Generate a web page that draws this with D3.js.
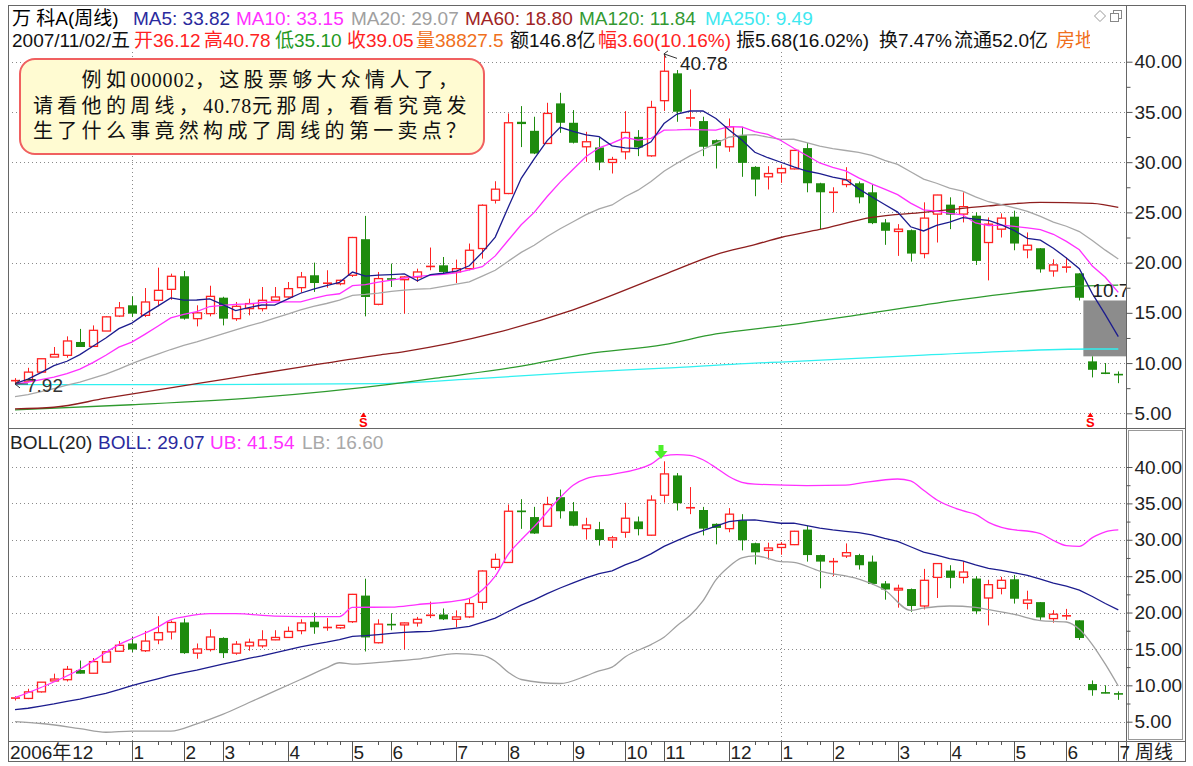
<!DOCTYPE html>
<html><head><meta charset="utf-8">
<script src="https://cdn.jsdelivr.net/npm/d3@7"></script>
<style>body{margin:0;background:#fff}svg{display:block}</style>
</head><body>
<svg id="c" width="1193" height="766"></svg>
<script>
// ---------------- DATA (weekly candles, index 1..86) ----------------
const opens = [8.2,8.2,9.1,10.6,10.77,12.1,11.66,13.19,14.68,15.75,
14.75,16.25,17.34,18.64,14.42,14.92,16.51,14.42,15.42,15.42,
16.25,16.58,17.51,18.74,17.9,17.9,18.74,22.33,15.85,18.45,
18.3,18.57,19.57,19.73,19.07,19.4,21.4,26.21,26.88,34.02,
33.12,31.86,35.85,33.92,31.53,31.46,29.97,31.03,32.52,30.63,
36.12,38.84,34.35,34.09,32.19,31.53,32.69,29.53,28.54,28.94,
29.33,31.4,27.9,26.93,27.77,27.9,27.0,24.0,23.1,23.23,
20.9,24.83,25.77,24.83,24.67,22.0,23.33,24.57,21.27,21.43,
19.17,19.5,18.93,10.17,9.07,8.93];
const highs = [8.5,9.53,10.45,11.6,12.66,13.4,13.75,14.68,16.08,16.64,
17.47,19.5,18.9,19.17,15.75,17.7,16.6,16.08,16.41,17.57,
17.57,18.07,19.07,20.0,19.24,18.3,22.56,24.65,19.07,19.9,
18.65,19.4,21.5,20.56,20.3,21.9,25.8,28.1,34.85,35.58,
34.52,35.91,36.9,35.18,33.02,32.46,30.53,35.08,33.19,36.11,
40.78,39.17,37.24,34.52,32.26,34.35,33.52,29.6,29.6,29.7,
31.23,31.9,27.95,27.5,29.5,28.07,27.83,24.33,23.83,23.3,
26.0,26.75,26.5,27.0,25.0,24.5,24.9,25.17,23.0,21.45,
20.33,20.5,18.95,10.67,10.0,9.17];
const lows = [7.92,8.1,9.0,10.6,10.53,11.6,11.6,13.19,14.58,14.58,
14.58,15.65,16.3,14.32,13.65,14.65,13.75,14.2,14.75,15.15,
16.2,16.51,17.01,17.08,17.5,17.74,18.57,14.65,15.75,17.57,
14.92,18.07,19.24,18.97,17.97,19.24,20.4,25.88,26.81,31.5,
30.8,31.8,32.92,31.86,30.03,29.2,28.87,30.27,30.6,30.53,
35.10,34.02,33.52,30.6,29.37,31.03,28.54,26.61,27.28,27.94,
29.27,27.0,23.33,25.0,27.5,25.9,23.83,21.77,20.67,20.1,
20.43,22.0,23.33,24.0,19.77,18.23,22.5,21.23,20.43,19.0,
18.6,19.0,16.23,8.57,8.9,8.0];
const closes = [8.3,9.1,10.43,10.86,12.2,11.6,13.26,14.6,15.5,14.92,
16.08,17.24,18.64,14.42,15.0,16.64,14.42,15.65,15.92,16.25,
16.58,17.41,18.57,17.97,18.0,18.24,22.5,16.58,18.41,18.3,
18.57,19.07,19.67,19.07,19.4,21.23,25.71,27.31,33.92,33.79,
30.86,34.85,33.92,31.93,32.03,29.97,30.27,32.96,31.46,35.45,
39.05,35.02,34.45,31.53,31.63,33.52,29.93,28.27,28.87,29.37,
31.17,27.9,27.0,27.07,28.23,26.5,23.93,23.17,23.33,20.9,
24.43,26.73,24.77,25.57,20.17,23.83,24.43,21.9,21.73,19.33,
19.77,19.6,16.5,9.33,8.93,8.83];

// moving averages, one value per week
const ma5 = [7.95,8.4,9.05,9.75,10.18,10.84,11.67,12.50,13.43,13.98,
14.87,15.67,16.48,16.26,16.28,16.39,15.82,15.23,15.53,15.78,
15.76,16.36,16.95,17.36,17.71,18.04,19.06,18.66,18.75,18.81,
18.87,18.19,18.80,18.94,19.16,19.69,21.02,22.54,25.51,28.39,
30.32,32.15,33.47,33.07,32.72,32.54,31.62,31.43,31.34,32.02,
33.84,34.79,35.09,35.10,34.34,33.23,32.21,30.98,30.44,29.99,
29.52,29.12,28.86,28.50,28.27,27.34,26.55,25.78,25.03,23.57,
23.15,23.71,24.03,24.48,24.33,24.21,23.75,23.18,22.41,22.24,
21.43,20.47,19.39,16.91,14.83,12.64];
const ma10 = [7.9,8.1,8.35,8.6,8.95,9.4,10.04,10.78,11.59,12.08,
12.86,13.67,14.49,14.85,15.13,15.63,15.75,15.85,15.89,16.03,
16.08,16.09,16.09,16.44,16.74,16.90,17.71,17.80,18.05,18.26,
18.46,18.62,18.73,18.84,18.98,19.28,19.60,20.67,22.23,23.77,
25.00,26.58,28.01,29.29,30.56,31.43,31.89,32.45,32.20,32.37,
33.19,33.21,33.26,33.22,33.18,33.53,33.50,33.03,32.77,32.16,
31.38,30.66,29.92,29.47,29.13,28.43,27.83,27.32,26.77,25.92,
25.25,25.13,24.91,24.76,23.95,23.68,23.73,23.61,23.45,23.29,
22.82,22.11,21.28,19.66,18.54,17.04];
const ma20 = [6.65,6.85,7.15,7.45,7.8,8.1,8.5,8.9,9.4,9.95,
10.45,10.9,11.35,11.75,12.1,12.5,12.9,13.3,13.7,14.05,
14.47,14.88,15.29,15.64,15.93,16.27,16.73,16.83,16.97,17.14,
17.27,17.36,17.41,17.64,17.86,18.09,18.66,19.24,20.14,21.02,
21.73,22.60,23.37,24.07,24.77,25.35,25.74,26.56,27.21,28.07,
29.10,29.89,30.63,31.26,31.87,32.48,32.69,32.74,32.49,32.27,
32.28,31.94,31.59,31.35,31.16,30.98,30.67,30.18,29.77,29.04,
28.31,27.90,27.41,27.11,26.54,26.06,25.78,25.46,25.11,24.60,
24.03,23.62,23.09,22.21,21.24,20.36];
// long averages read at sample weeks: [week, value]
const ma60 = [[1,5.45],[4,5.6],[8,6.5],[15,7.95],[23,9.6],[29,10.8],[31,11.15],[38,13.0],[44,15.3],[51,18.8],[55,20.8],[58,21.8],[60,22.5],[63,23.3],[67,24.5],[71,25.0],[76,25.65],[80,26.0],[84,25.9],[86,25.5]];
const ma120 = [[1,5.35],[10,5.85],[20,6.6],[30,7.9],[34,8.6],[40,9.7],[45,10.9],[51,11.84],[55,12.9],[60,13.7],[66,14.8],[74,16.35],[79,17.15],[83,17.65],[86,17.75]];
const ma250 = [[1,7.85],[15,7.85],[29,7.95],[36,8.4],[44,9.05],[51,9.49],[58,10.0],[60,10.1],[71,10.8],[84,11.4],[86,11.4]];
// Bollinger bands (mid = ma20)
const bollUB = [[1,8.3],[3,9.7],[6,12.2],[8,14.5],[9,15.6],[10,16.4],[12,18.0],[13,19.0],[14,19.4],[16,19.85],[18,19.85],[21,19.5],[23,19.45],[26,19.45],[27,20.7],[30,20.75],[32,21.1],[35,21.6],[36,21.95],[37,23.1],[38,25.0],[39,28.0],[40,30.0],[41,31.8],[43,35.8],[44,37.5],[45,38.4],[47,39.0],[50,40.4],[51,41.54],[52,41.7],[53,41.6],[54,41.0],[55,39.9],[56,38.7],[57,37.9],[58,37.65],[62,37.45],[65,37.5],[66,37.75],[69,38.35],[70,38.1],[71,36.8],[72,35.5],[74,34.0],[75,33.5],[76,32.4],[77,31.7],[80,30.85],[81,29.9],[82,29.2],[83,29.1],[84,30.3],[85,31.1],[86,31.35]];
const bollLB = [[1,5.0],[3,4.75],[6,4.05],[8,3.55],[10,3.7],[13,3.7],[15,4.7],[17,6.0],[19,7.6],[21,9.2],[23,10.8],[25,12.4],[26,13.1],[27,12.9],[30,13.3],[32,13.6],[35,14.35],[37,14.1],[38,13.3],[39,11.8],[40,10.8],[43,10.25],[45,11.3],[46,12.0],[47,12.5],[48,13.9],[50,15.6],[51,16.6],[52,18.2],[53,19.6],[54,21.6],[55,24.5],[56,26.3],[57,27.5],[58,27.8],[60,27.0],[61,26.9],[63,25.7],[66,24.6],[68,23.1],[70,20.3],[71,20.6],[73,20.9],[75,20.7],[76,20.4],[78,19.75],[80,18.9],[82,18.7],[83,17.7],[84,15.6],[85,12.9],[86,9.9]];

const monthStarts = [5,10,14,17,22,27,30,35,39,44,48,51,56,60,64,69,73,78,82,86];
const monthLabels = ["12","1","2","3","4","5","6","7","8","9","10","11","12","1","2","3","4","5","6","7"];
const yearLabel = "2006年";
const priceTicks = [5,7.5,10,12.5,15,17.5,20,22.5,25,27.5,30,32.5,35,37.5,40];

const header1 = ["万 科A(周线)","MA5: 33.82","MA10: 33.15","MA20: 29.07","MA60: 18.80","MA120: 11.84","MA250: 9.49"];
const header2 = ["2007/11/02/五","开36.12","高40.78","低35.10","收39.05","量38827.5","额146.8亿","幅3.60(10.16%)","振5.68(16.02%)","换7.47%","流通52.0亿","房地产"];
const bollLegend = ["BOLL(20)","BOLL: 29.07","UB: 41.54","LB: 16.60"];
const peakWeek = 51, lowWeek = 1, gapWeek = 83;
const sellMarks = [28,84];
const noteLines = [
  [["　　例如","c"],["000002","d"],["，这股票够大众情人了，","c"]],
  [["请看他的周线，","c"],["40.78","d"],["元那周，看看究竟发","c"]],
  [["生了什么事竟然构成了周线的第一卖点？","c"]]
];

// ---------------- LAYOUT ----------------
const FONT = "'Liberation Sans', Arial, 'Noto Sans CJK SC', sans-serif";
const RED="#ff2222", GREEN="#1e8b0e";
const C5="#1c1c8e", C10="#ff30ff", C20="#a8a8a8", C60="#8e1e1e", C120="#2e9a2e", C250="#30f0f0";
const L=8, R=1126, TOP=5, SEP=428, BOT=741, FR=1185, FB=761;

const svg = d3.select("#c");
const x = d3.scaleLinear().domain([1,86]).range([15,1118.3]);
const yT = d3.scaleLinear().domain([5,40]).range([413.3,61.7]);
const yB = d3.scaleLinear().domain([5,40]).range([721.7,467]);

const defs = svg.append("defs");
defs.append("clipPath").attr("id","cpT").append("rect").attr("x",L).attr("y",TOP).attr("width",R-L).attr("height",SEP-TOP);
defs.append("clipPath").attr("id","cpB").append("rect").attr("x",L).attr("y",SEP).attr("width",R-L).attr("height",BOT-SEP);
defs.append("clipPath").attr("id","cpH").append("rect").attr("x",0).attr("y",0).attr("width",1090).attr("height",60);

svg.append("rect").attr("width",1193).attr("height",766).attr("fill","#fff");

function panel(y, clipId, vTop){
  const g = svg.append("g").attr("clip-path",`url(#${clipId})`);
  g.selectAll("line.h").data(priceTicks.filter(v=>v%5===0)).join("line")
    .attr("x1",L).attr("x2",R).attr("y1",d=>Math.round(y(d))+0.5).attr("y2",d=>Math.round(y(d))+0.5)
    .attr("stroke","#8a8a8a").attr("stroke-dasharray","1,3");
  g.selectAll("line.v").data([10,60]).join("line")
    .attr("x1",d=>Math.round(x(d))+0.5).attr("x2",d=>Math.round(x(d))+0.5)
    .attr("y1",vTop).attr("y2",FB).attr("stroke","#8a8a8a").attr("stroke-dasharray","1,3");
  return g;
}
function drawCandles(g, y){
  const data = d3.range(86).map(i=>({i:i+1,o:opens[i],h:highs[i],l:lows[i],c:closes[i]}));
  const k = g.selectAll("g.k").data(data).join("g");
  k.each(function(d){
    const s = d3.select(this);
    const cx = Math.round(x(d.i))+0.5;
    const up = d.c >= d.o;
    const col = up ? RED : GREEN;
    const top = y(Math.max(d.o,d.c)), bot = y(Math.min(d.o,d.c));
    if(up){
      s.append("line").attr("x1",cx).attr("x2",cx).attr("y1",y(d.h)).attr("y2",top).attr("stroke",col);
      s.append("line").attr("x1",cx).attr("x2",cx).attr("y1",bot).attr("y2",y(d.l)).attr("stroke",col);
      if(bot-top < 1.6){
        s.append("line").attr("x1",cx-4.5).attr("x2",cx+4.5).attr("y1",(top+bot)/2).attr("y2",(top+bot)/2).attr("stroke",col).attr("stroke-width",1.6);
      } else {
        s.append("rect").attr("x",cx-4).attr("y",top).attr("width",8).attr("height",bot-top)
          .attr("fill","#fff").attr("stroke",col).attr("stroke-width",1.3);
      }
    } else {
      s.append("line").attr("x1",cx).attr("x2",cx).attr("y1",y(d.h)).attr("y2",y(d.l)).attr("stroke",col);
      s.append("rect").attr("x",cx-4.5).attr("y",top).attr("width",9).attr("height",Math.max(bot-top,1.6)).attr("fill",col);
    }
  });
}
const lineLin = y => d3.line().x(d=>x(d[0])).y(d=>y(d[1]));
const lineSm = y => d3.line().x(d=>x(d[0])).y(d=>y(d[1])).curve(d3.curveMonotoneX);
const pairs = arr => arr.map((v,i)=>[i+1,v]);

// ---------- TOP PANEL ----------
const gT = panel(yT,"cpT",52);
gT.append("rect").attr("x",x(gapWeek)+4).attr("y",yT(lows[gapWeek-1]))
  .attr("width",R-(x(gapWeek)+4)).attr("height",yT(highs[gapWeek])-yT(lows[gapWeek-1])).attr("fill","#8c8c8c");
drawCandles(gT,yT);
[[ma250,C250,lineSm],[ma120,C120,lineSm],[ma60,C60,lineSm]].forEach(([a,c,f])=>{
  gT.append("path").attr("d",f(yT)(a)).attr("fill","none").attr("stroke",c).attr("stroke-width",1.3);
});
[[ma20,C20],[ma10,C10],[ma5,C5]].forEach(([a,c])=>{
  gT.append("path").attr("d",lineLin(yT)(pairs(a))).attr("fill","none").attr("stroke",c).attr("stroke-width",1.3);
});
gT.append("text").attr("x",x(gapWeek+1)).attr("y",yT(lows[gapWeek-1])-3).attr("font-family",FONT).attr("font-size",19).attr("fill","#222")
  .text((highs[gapWeek]+0.07).toFixed(2));
{
  const px = x(peakWeek), py = yT(highs[peakWeek-1]);
  svg.append("path").attr("d",`M${px},${py} L${px+13},${py+4.5} M${px},${py} L${px+4},${py-3} M${px},${py} L${px+2},${py+4}`)
    .attr("stroke","#333").attr("fill","none");
  svg.append("text").attr("x",px+16).attr("y",py+16).attr("font-family",FONT).attr("font-size",19).attr("fill","#222").text(highs[peakWeek-1].toFixed(2));
}
{
  const px = x(lowWeek), py = yT(lows[lowWeek-1]);
  svg.append("path").attr("d",`M${px},${py} L${px+13},${py} M${px},${py} L${px+5},${py-4} M${px},${py} L${px+5},${py+4}`)
    .attr("stroke","#333").attr("fill","none");
  svg.append("text").attr("x",px+11).attr("y",py+8).attr("font-family",FONT).attr("font-size",19).attr("fill","#333").text(lows[lowWeek-1].toFixed(2));
}
sellMarks.forEach(w=>{
  const mx = x(w)-2;
  svg.append("path").attr("d",`M${mx-3},417 L${mx+3},417 L${mx},412.5 Z`).attr("fill","#ff0000");
  svg.append("text").attr("x",mx).attr("y",427).attr("text-anchor","middle").attr("font-family",FONT)
    .attr("font-weight","bold").attr("font-size",13).attr("fill","#ff0000").text("S");
});

// ---------- BOTTOM PANEL ----------
const gB = panel(yB,"cpB",SEP);
drawCandles(gB,yB);
gB.append("path").attr("d",lineSm(yB)(bollLB)).attr("fill","none").attr("stroke","#a0a0a0").attr("stroke-width",1.3);
gB.append("path").attr("d",lineSm(yB)(bollUB)).attr("fill","none").attr("stroke",C10).attr("stroke-width",1.3);
gB.append("path").attr("d",lineLin(yB)(pairs(ma20))).attr("fill","none").attr("stroke",C5).attr("stroke-width",1.3);
{
  const ax = x(peakWeek)-3;
  svg.append("path").attr("d",`M${ax-2.5},445 h5 v6 h4 l-6.5,8 l-6.5,-8 h4 Z`).attr("fill","#4cf02a");
}

// ---------- FRAME ----------
const fr = svg.append("g").attr("stroke","#666").attr("fill","none");
fr.append("rect").attr("x",L+0.5).attr("y",TOP+0.5).attr("width",FR-L).attr("height",FB-TOP);
fr.append("line").attr("x1",R+0.5).attr("x2",R+0.5).attr("y1",TOP).attr("y2",FB);
fr.append("line").attr("x1",L).attr("x2",FR).attr("y1",SEP+0.5).attr("y2",SEP+0.5);
fr.append("line").attr("x1",L).attr("x2",FR).attr("y1",BOT+0.5).attr("y2",BOT+0.5);
fr.append("rect").attr("x",R+2.5).attr("y",SEP+2.5).attr("width",FR-R-5).attr("height",BOT-SEP-4).attr("stroke","#999");

function rightAxis(y){
  const ax = d3.axisRight(y).tickValues(priceTicks).tickSize(6).tickPadding(2)
    .tickFormat(d=> d%5===0 ? d.toFixed(2) : "");
  const g = svg.append("g").attr("transform",`translate(${R+0.5},0)`).call(ax);
  g.select(".domain").remove();
  g.selectAll(".tick line").attr("stroke","#555").attr("x2",d=> d%5===0?6:4);
  g.selectAll(".tick text").attr("font-size",19).attr("font-family",FONT).attr("fill","#222");
}
rightAxis(yT); rightAxis(yB);

// bottom time axis
{
  const g = svg.append("g");
  const covered = [];
  const yr = g.append("text").attr("x",10).attr("y",759).attr("font-family",FONT).attr("font-size",19).attr("fill","#222").text(yearLabel);
  const yrEnd = 10 + yr.node().getComputedTextLength();
  covered.push([10, yrEnd]);
  monthStarts.forEach((w,i)=>{
    const tx = Math.round(x(w))+0.5;
    const lx = Math.max(tx+1, yrEnd+1);
    if(lx === tx+1) g.append("line").attr("x1",tx).attr("x2",tx).attr("y1",BOT).attr("y2",FB).attr("stroke","#555");
    const t = g.append("text").attr("x",lx).attr("y",759).attr("font-family",FONT).attr("font-size",19).attr("fill","#222").text(monthLabels[i]);
    covered.push([tx, lx+t.node().getComputedTextLength()+2]);
  });
  d3.range(1,87).filter(w=>!monthStarts.includes(w)).forEach(w=>{
    const tx = Math.round(x(w))+0.5;
    if(covered.some(([a,b])=>tx>=a && tx<=b)) return;
    g.append("line").attr("x1",tx).attr("x2",tx).attr("y1",BOT).attr("y2",BOT+4).attr("stroke","#555");
  });
  g.append("text").attr("x",1135).attr("y",759).attr("font-family",FONT).attr("font-size",19).attr("fill","#222").text("周线");
}

// ---------- HEADER ----------
{
  const h1x = [12,133,236,351,465,579,705];
  const h1c = ["#000","#2a2a9e",C10,"#a0a0a0","#a02424","#339933","#40e8f0"];
  header1.forEach((t,i)=> svg.append("text").attr("x",h1x[i]).attr("y",25).attr("font-family",FONT).attr("font-size",19).attr("fill",h1c[i]).text(t));
  const h2x = [12,134,204,275,347,416,510,598,736,879,954,1056];
  const h2c = ["#111",RED,RED,"#229922",RED,"#f07020","#111",RED,"#111","#111","#111","#f07020"];
  const hg = svg.append("g").attr("clip-path","url(#cpH)");
  header2.forEach((t,i)=> hg.append("text").attr("x",h2x[i]).attr("y",47).attr("font-family",FONT).attr("font-size",19).attr("fill",h2c[i]).text(t));
  svg.append("path").attr("d","M1100,10.5 L1105.5,16 L1100,21.5 L1094.5,16 Z").attr("fill","#fff").attr("stroke","#999");
  svg.append("rect").attr("x",1113.5).attr("y",10.5).attr("width",8).attr("height",8).attr("fill","#fff").attr("stroke","#888");
  svg.append("rect").attr("x",1110.5).attr("y",13.5).attr("width",8).attr("height",8).attr("fill","#fff").attr("stroke","#888");
  bollLegend.forEach((t,i)=> svg.append("text").attr("x",[10,98,210,302][i]).attr("y",449).attr("font-family",FONT).attr("font-size",19)
    .attr("fill",["#222","#2a2a9e",C10,"#a8a8a8"][i]).text(t));
}

// ---------- NOTE BOX ----------
{
  svg.append("rect").attr("x",20).attr("y",59).attr("width",464).attr("height",95).attr("rx",15).attr("ry",15)
    .attr("fill","#fffbd2").attr("stroke","#f06060").attr("stroke-width",2);
  const base = [87,112.5,138];
  noteLines.forEach((segs,li)=>{
    const t = svg.append("text").attr("x",33).attr("y",base[li]).attr("font-size",20).attr("fill","#111")
      .attr("font-family","'Liberation Serif','Noto Sans CJK SC',serif");
    segs.forEach(([s,kind])=>{
      t.append("tspan").attr("letter-spacing",kind==="c"?4.3:0.8).text(s);
    });
  });
}
</script>
</body></html>
